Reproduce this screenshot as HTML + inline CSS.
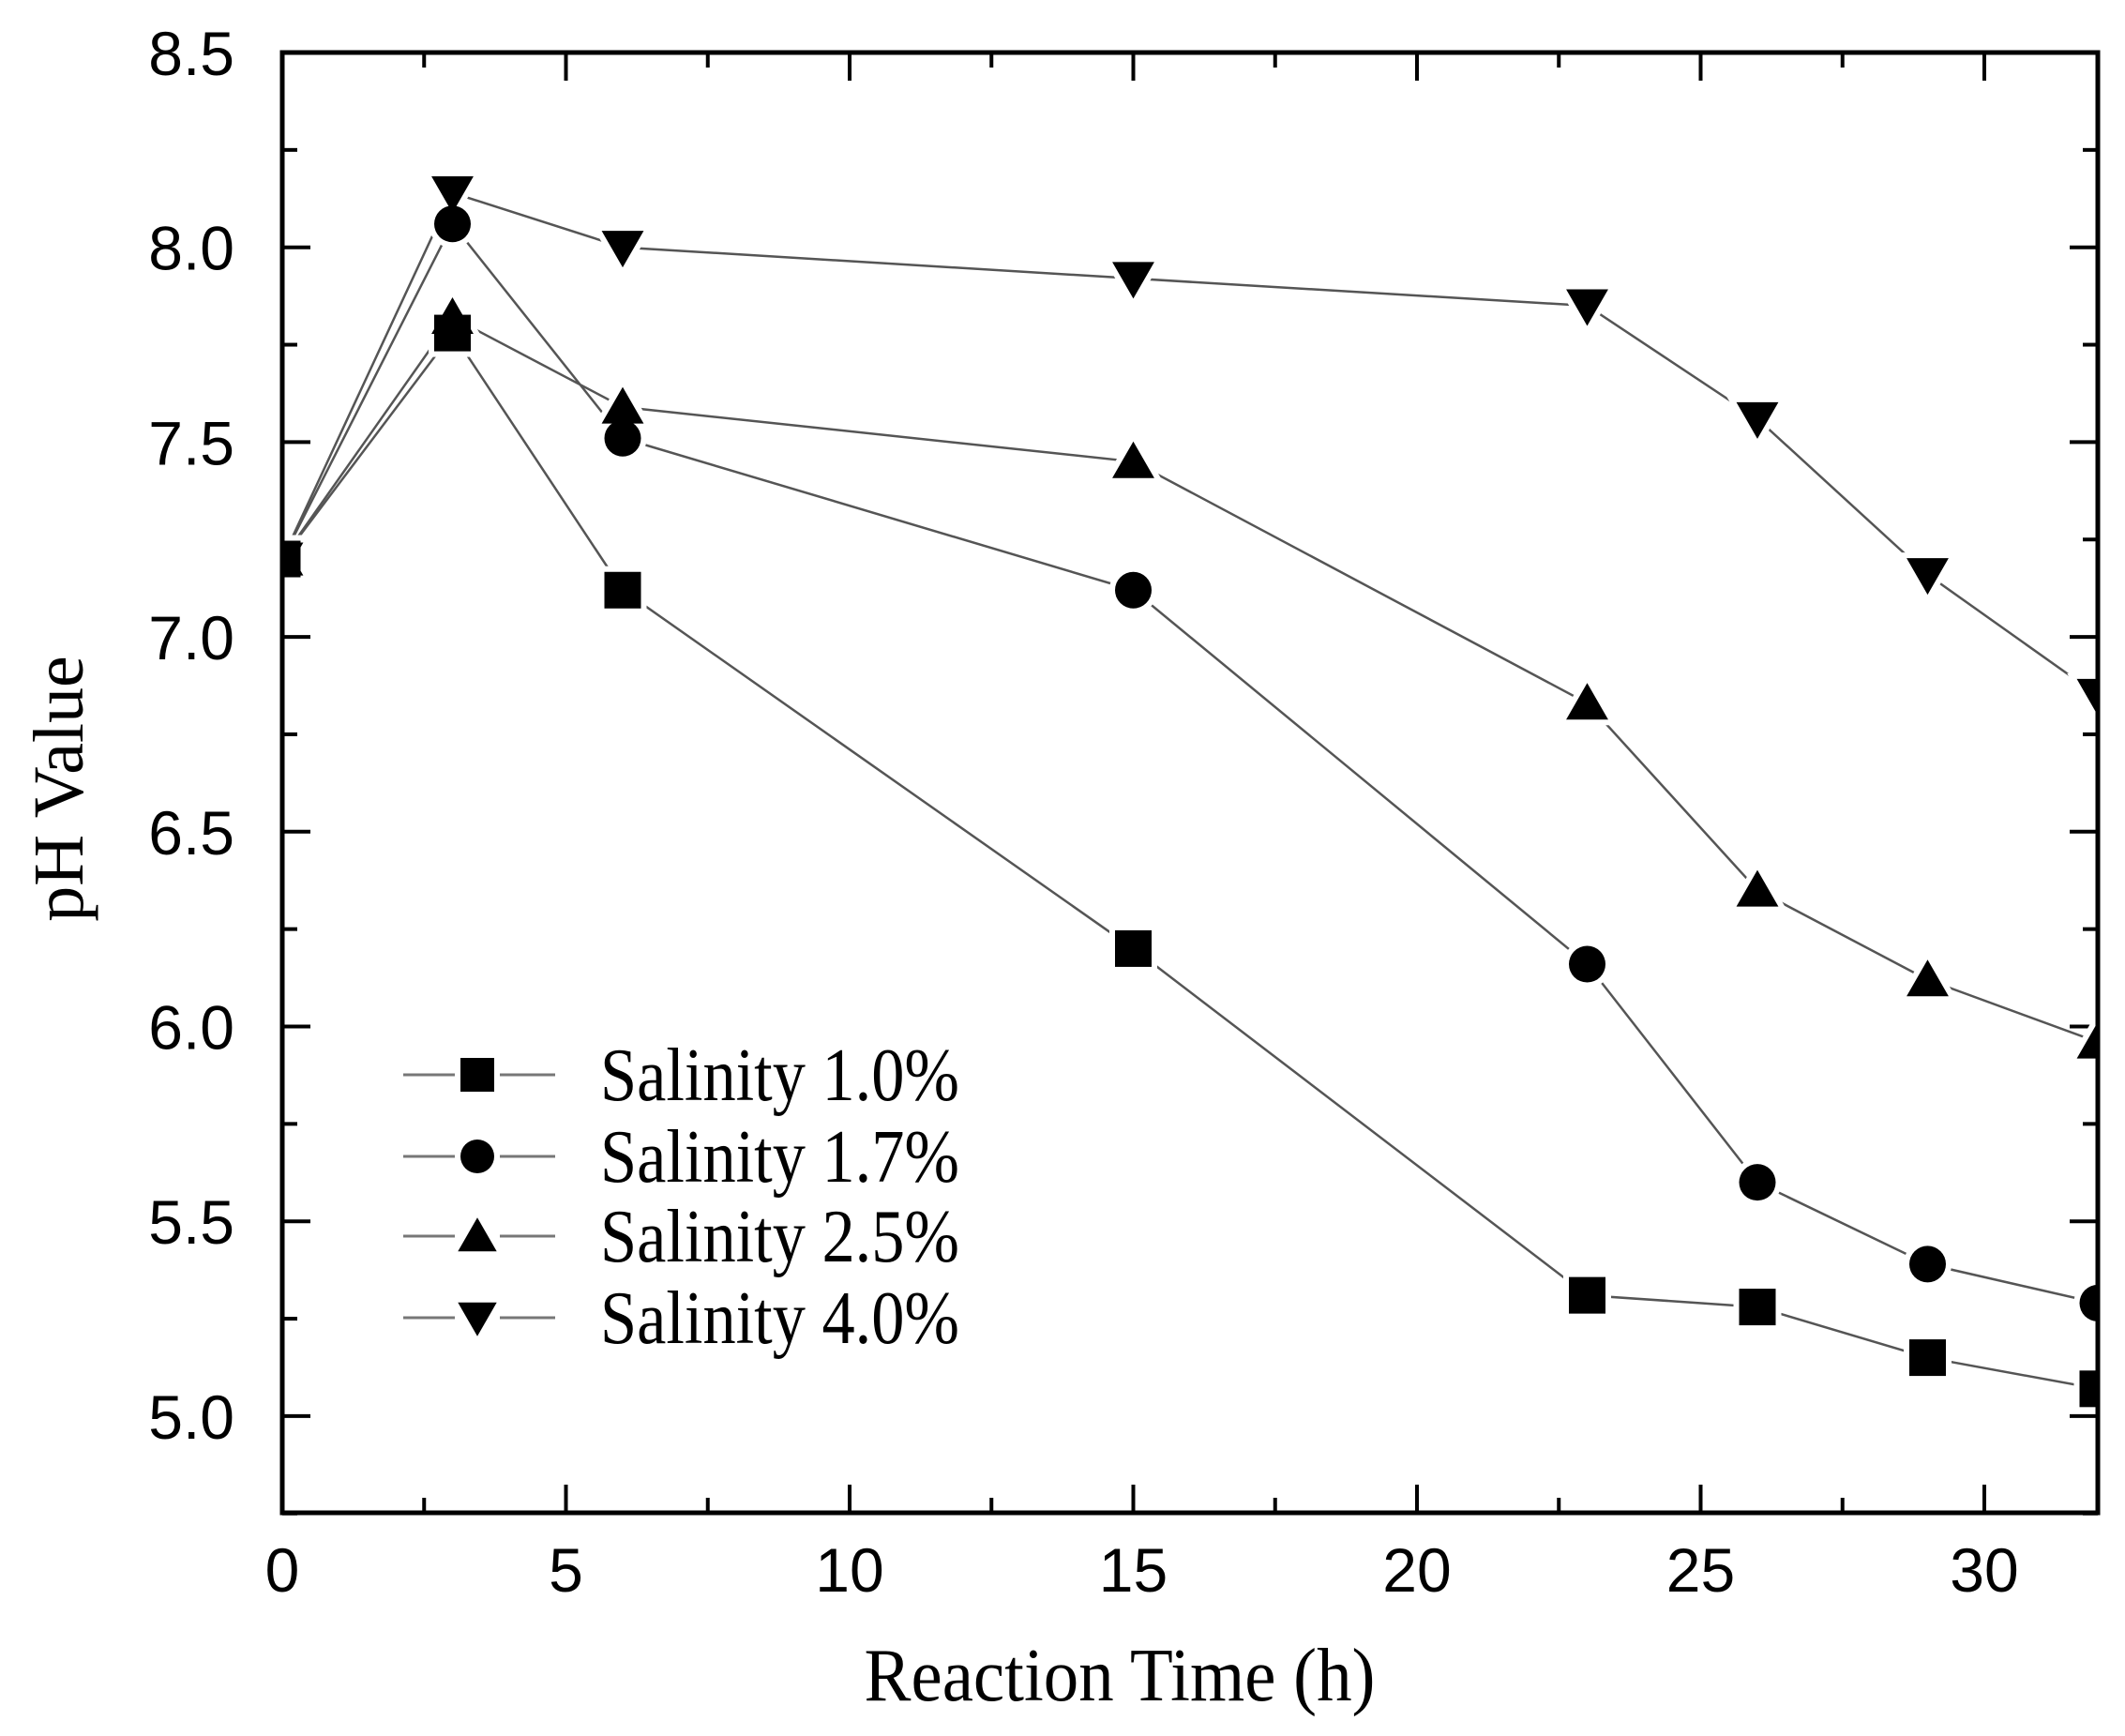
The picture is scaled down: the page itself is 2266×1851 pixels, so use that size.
<!DOCTYPE html>
<html><head><meta charset="utf-8"><style>
html,body{margin:0;padding:0;background:#fff}
svg{display:block}
</style></head><body>
<svg width="2266" height="1851" viewBox="0 0 2266 1851" xmlns="http://www.w3.org/2000/svg">
<defs><clipPath id="pc"><rect x="301" y="56" width="1936" height="1557"/></clipPath></defs>
<g id="ticks" stroke="#000" stroke-width="4"></g>
<g id="series" clip-path="url(#pc)"></g>
<rect x="301" y="56" width="1936" height="1557" fill="none" stroke="#000" stroke-width="5"/>
<g id="labels" font-family="Liberation Sans, Arial, sans-serif" font-size="66" fill="#000"></g>
<text x="1194" y="1813" font-family="Liberation Serif, serif" font-size="80" text-anchor="middle" textLength="545" lengthAdjust="spacingAndGlyphs">Reaction Time (h)</text>
<text transform="translate(88,841) rotate(-90)" font-family="Liberation Serif, serif" font-size="76" text-anchor="middle">pH Value</text>
<g id="legend" font-family="Liberation Serif, serif" font-size="80"></g>
<script>
const NS="http://www.w3.org/2000/svg";
function el(t,a,p,txt){const e=document.createElementNS(NS,t);for(const k in a)e.setAttribute(k,a[k]);if(txt!==undefined)e.textContent=txt;p.appendChild(e);return e;}
const X=v=>301+60.5*v, Y=v=>56+415.4*(8.5-v);
const T=document.getElementById('ticks'),L=document.getElementById('labels');
for(let v=0;v<=32.01;v+=2.5){const x=X(v),M=Math.abs(v%5)<0.01,len=M?30:16;
 el('line',{x1:x,y1:1613,x2:x,y2:1613-len},T);el('line',{x1:x,y1:56,x2:x,y2:56+len},T);
 if(M)el('text',{x:x,y:1697,'text-anchor':'middle'},L,String(v));}
for(let i=0;i<=15;i++){const v=4.75+i*0.25;const y=Y(v),M=(i%2==1),len=M?30:16;
 el('line',{x1:301,y1:y,x2:301+len,y2:y},T);el('line',{x1:2237,y1:y,x2:2237-len,y2:y},T);
 if(M)el('text',{x:250,y:y+24,'text-anchor':'end'},L,v.toFixed(1));}
const xs=[0,3,6,15,23,26,29,32];
const data=[[7.2,7.78,7.12,6.2,5.31,5.28,5.15,5.07],[7.2,8.06,7.51,7.12,6.16,5.6,5.39,5.29],[7.2,7.82,7.59,7.45,6.83,6.35,6.12,5.96],[7.2,8.14,8.0,7.92,7.85,7.56,7.16,6.85]];
function marker(k,x,y,s,p,halo){const a=halo?{fill:'#fff',stroke:'#fff','stroke-width':12}:{fill:'#000'};
 const h=s/2;
 if(k==0)el('rect',Object.assign({x:x-h,y:y-h,width:s,height:s},a),p);
 else if(k==1)el('circle',Object.assign({cx:x,cy:y,r:h},a),p);
 else if(k==2)el('polygon',Object.assign({points:`${x},${y-h*1.1} ${x-h*1.15},${y+h*0.9} ${x+h*1.15},${y+h*0.9}`},a),p);
 else el('polygon',Object.assign({points:`${x},${y+h*1.1} ${x-h*1.15},${y-h*0.9} ${x+h*1.15},${y-h*0.9}`},a),p);}
const S=document.getElementById('series');
data.forEach((d,k)=>{el('polyline',{points:d.map((v,i)=>X(xs[i])+','+Y(v)).join(' '),fill:'none',stroke:'#555','stroke-width':2.5},S);});
data.forEach((d,k)=>d.forEach((v,i)=>marker(k,X(xs[i]),Y(v),39,S,true)));
data.forEach((d,k)=>d.forEach((v,i)=>marker(k,X(xs[i]),Y(v),39,S,false)));
const G=document.getElementById('legend');const names=['Salinity 1.0%','Salinity 1.7%','Salinity 2.5%','Salinity 4.0%'];
[1146,1233,1318,1405].forEach((y,k)=>{
 el('line',{x1:430,y1:y,x2:485,y2:y,stroke:'#777','stroke-width':3},G);
 el('line',{x1:533,y1:y,x2:592,y2:y,stroke:'#777','stroke-width':3},G);
 marker(k,509,y,36,G,false);
 el('text',{x:640,y:y+27,textLength:383,lengthAdjust:'spacingAndGlyphs'},G,names[k]);});
</script>
</svg>
</body></html>
